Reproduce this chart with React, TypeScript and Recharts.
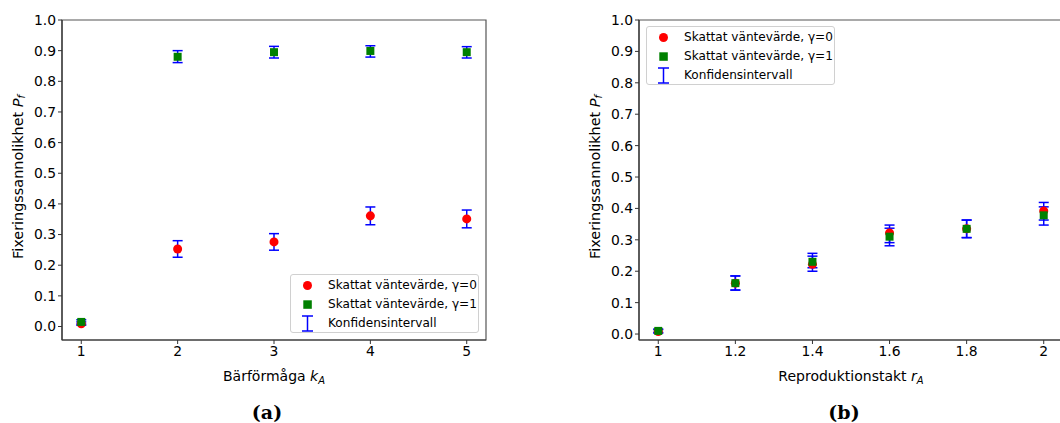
import React from 'react';
import { ScatterChart, Scatter, XAxis, YAxis, ZAxis, ErrorBar, ReferenceArea } from 'recharts';

// (a) carrying capacity k_A
const capacityValues = [1, 2, 3, 4, 5];
const capMeanG0 = [0.009, 0.253, 0.276, 0.361, 0.351];
const capLowG0 = [0.004, 0.226, 0.249, 0.332, 0.322];
const capHighG0 = [0.015, 0.28, 0.303, 0.39, 0.38];
const capMeanG1 = [0.015, 0.88, 0.895, 0.899, 0.895];
const capLowG1 = [0.008, 0.861, 0.876, 0.879, 0.876];
const capHighG1 = [0.022, 0.9, 0.914, 0.916, 0.913];

// (b) reproduction rate r_A
const rateValues = [1, 1.2, 1.4, 1.6, 1.8, 2];
const rateMeanG0 = [0.008, 0.162, 0.222, 0.322, 0.335, 0.392];
const rateLowG0 = [0.003, 0.14, 0.2, 0.291, 0.307, 0.363];
const rateHighG0 = [0.014, 0.185, 0.248, 0.347, 0.363, 0.419];
const rateMeanG1 = [0.01, 0.162, 0.23, 0.31, 0.335, 0.378];
const rateLowG1 = [0.005, 0.14, 0.211, 0.281, 0.307, 0.347];
const rateHighG1 = [0.016, 0.185, 0.257, 0.337, 0.363, 0.405];

const yTicks = [0, 0.1, 0.2, 0.3, 0.4, 0.5, 0.6, 0.7, 0.8, 0.9, 1.0];
const capTicks = [1, 2, 3, 4, 5];
const rateTicks = [1, 1.2, 1.4, 1.6, 1.8, 2];

const legendLabels = ['Skattat väntevärde, γ=0', 'Skattat väntevärde, γ=1', 'Konfidensintervall'];

const FONT = '"DejaVu Sans", sans-serif';
const RED = '#ff0000';
const GREEN = '#008000';
const BLUE = '#0000ff';
const AXIS = '#333';

const buildRows = (xs: number[], mean: number[], low: number[], high: number[]) =>
  xs.map((x, i) => ({ x, y: mean[i], ci: [mean[i] - low[i], high[i] - mean[i]] }));

const LegendBox = ({ left, top }: { left: number; top: number }) => (
  <div
    style={{
      position: 'absolute',
      left,
      top,
      width: 187,
      height: 57,
      border: '1px solid #d0d0d0',
      borderRadius: 3,
      background: 'rgba(255,255,255,0.8)',
      fontFamily: FONT,
      fontSize: 12.1,
      color: '#000',
    }}
  >
    {legendLabels.map((label, i) => (
      <div key={label} style={{ position: 'absolute', left: 0, top: 1 + i * 19, height: 19, width: 187 }}>
        <svg width={30} height={19} style={{ position: 'absolute', left: 4, top: 0 }}>
          {i === 0 && <circle cx={12.5} cy={9.5} r={4.5} fill={RED} />}
          {i === 1 && <rect x={8.3} y={5.3} width={8.5} height={8.5} fill={GREEN} />}
          {i === 2 && (
            <g stroke={BLUE} strokeWidth={1.5}>
              <line x1={12.5} y1={2} x2={12.5} y2={17} />
              <line x1={7} y1={2} x2={18} y2={2} />
              <line x1={7} y1={17} x2={18} y2={17} />
            </g>
          )}
        </svg>
        <span style={{ position: 'absolute', left: 37, top: 1, whiteSpace: 'nowrap', lineHeight: '17px' }}>{label}</span>
      </div>
    ))}
  </div>
);

type Row = { x: number; y: number; ci: number[] };

type PanelProps = {
  width: number;
  left: number;
  marginLeft: number;
  marginRight: number;
  xDomain: [number, number];
  yDomain: [number, number];
  xTicks: number[];
  xName: string;
  xVar: string;
  rows0: Row[];
  rows1: Row[];
  legendPos: { left: number; top: number };
  caption: string;
  captionX: number;
};

const Panel = (p: PanelProps) => (
  <div style={{ position: 'absolute', left: p.left, top: 0, width: p.width, height: 423 }}>
    <ScatterChart
      width={p.width}
      height={423}
      margin={{ top: 20, right: p.marginRight, bottom: 33, left: p.marginLeft }}
    >
      <ReferenceArea
        x1={p.xDomain[0]}
        x2={p.xDomain[1]}
        y1={p.yDomain[0]}
        y2={p.yDomain[1]}
        fill="none"
        stroke="#555"
        strokeWidth={1.2}
      />
      <XAxis
        dataKey="x"
        type="number"
        domain={p.xDomain}
        ticks={p.xTicks}
        allowDataOverflow
        height={50}
        tickSize={4}
        tickLine={{ stroke: AXIS }}
        axisLine={{ stroke: AXIS, strokeWidth: 1.2 }}
        tick={{ fill: '#000', fontSize: 13.9, fontFamily: FONT }}
        tickFormatter={(v: number) => String(v)}
        label={{
          content: (lp: any) => {
            const vb = lp.viewBox;
            return (
              <text x={vb.x + vb.width / 2} y={vb.y + 41} textAnchor="middle" fontFamily={FONT} fontSize={14} fill="#000">
                {p.xName + ' '}
                <tspan fontStyle="italic">{p.xVar}</tspan>
                <tspan fontStyle="italic" fontSize={10} dy={3}>A</tspan>
              </text>
            );
          },
        }}
      />
      <YAxis
        dataKey="y"
        type="number"
        domain={p.yDomain}
        ticks={yTicks}
        allowDataOverflow
        width={62}
        tickSize={4}
        tickLine={{ stroke: AXIS }}
        axisLine={{ stroke: AXIS, strokeWidth: 1.2 }}
        tick={{ fill: '#000', fontSize: 13.9, fontFamily: FONT }}
        tickFormatter={(v: number) => v.toFixed(1)}
        label={{
          content: (lp: any) => {
            const vb = lp.viewBox;
            const cx = vb.x + 18;
            const cy = vb.y + vb.height / 2 - 3;
            return (
              <text x={cx} y={cy} transform={`rotate(-90, ${cx}, ${cy})`} textAnchor="middle" dominantBaseline="central" fontFamily={FONT} fontSize={14.4} fill="#000">
                {'Fixeringssannolikhet '}
                <tspan fontStyle="italic">P</tspan>
                <tspan fontStyle="italic" fontSize={10} dy={3}>f</tspan>
              </text>
            );
          },
        }}
      />
      <ZAxis range={[75, 75]} />
      <Scatter name={legendLabels[0]} data={p.rows0} fill={RED} shape="circle" isAnimationActive={false}>
        <ErrorBar dataKey="ci" direction="y" width={5} stroke={BLUE} strokeWidth={1.5} isAnimationActive={false} />
      </Scatter>
      <Scatter name={legendLabels[1]} data={p.rows1} fill={GREEN} shape="square" isAnimationActive={false}>
        <ErrorBar dataKey="ci" direction="y" width={5} stroke={BLUE} strokeWidth={1.5} isAnimationActive={false} />
      </Scatter>
    </ScatterChart>
    <LegendBox left={p.legendPos.left} top={p.legendPos.top} />
    <div
      style={{
        position: 'absolute',
        left: p.captionX - 30,
        width: 60,
        top: 400,
        textAlign: 'center',
        fontFamily: '"DejaVu Serif", serif',
        fontWeight: 'bold',
        fontSize: 19,
        lineHeight: '24px',
        color: '#000',
      }}
    >
      {p.caption}
    </div>
  </div>
);

export default function App() {
  const capRows0 = buildRows(capacityValues, capMeanG0, capLowG0, capHighG0);
  const capRows1 = buildRows(capacityValues, capMeanG1, capLowG1, capHighG1);
  const rateRows0 = buildRows(rateValues, rateMeanG0, rateLowG0, rateHighG0);
  const rateRows1 = buildRows(rateValues, rateMeanG1, rateLowG1, rateHighG1);

  return (
    <div style={{ position: 'absolute', left: 0, top: 0, width: 1060, height: 423, overflow: 'hidden', background: '#fff' }}>
      <Panel
        width={530}
        left={0}
        marginLeft={0}
        marginRight={44}
        xDomain={[0.8, 5.2]}
        yDomain={[-0.044, 1.0]}
        xTicks={capTicks}
        xName="Bärförmåga"
        xVar="k"
        rows0={capRows0}
        rows1={capRows1}
        legendPos={{ left: 290, top: 274 }}
        caption="(a)"
        captionX={267}
      />
      <Panel
        width={540}
        left={530}
        marginLeft={47}
        marginRight={7}
        xDomain={[0.95, 2.05]}
        yDomain={[-0.019, 1.0]}
        xTicks={rateTicks}
        xName="Reproduktionstakt"
        xVar="r"
        rows0={rateRows0}
        rows1={rateRows1}
        legendPos={{ left: 116, top: 26 }}
        caption="(b)"
        captionX={314}
      />
    </div>
  );
}
